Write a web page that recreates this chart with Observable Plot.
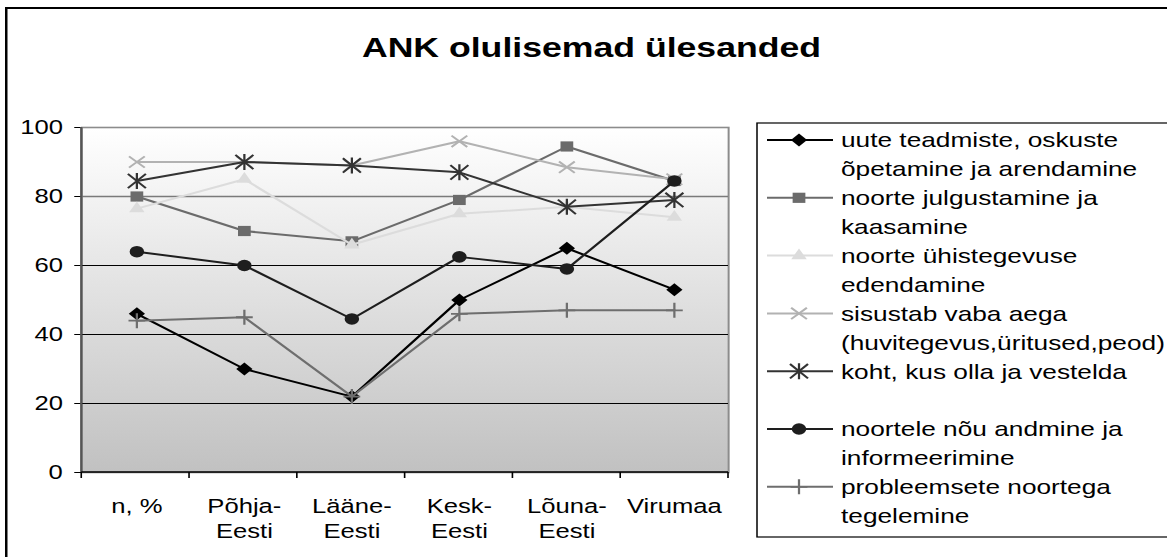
<!DOCTYPE html>
<html>
<head>
<meta charset="utf-8">
<script src="https://cdn.jsdelivr.net/npm/d3@7"></script>
<script src="https://cdn.jsdelivr.net/npm/@observablehq/plot@0.6"></script>
<style>
  html, body { margin: 0; padding: 0; background: #fff; width: 1167px; height: 557px; overflow: hidden; }
  #stage { position: absolute; left: 0; top: 0; width: 934px; height: 557px; transform: scaleX(1.25); transform-origin: 0 0; font-family: "Liberation Sans", Arial, sans-serif; }
  #border { position: absolute; left: 4px; top: 7px; width: 1000px; height: 700px; border: 2.5px solid #000; box-sizing: border-box; }
  #chart, #overlay { position: absolute; left: 0; top: 0; }
</style>
</head>
<body>
<div id="stage">
  <div id="border"></div>
  <div id="chart"></div>
  <svg id="overlay" width="934" height="557"></svg>
</div>
<script>
// ---------- data ----------
const categories = ["n, %", "Põhja-Eesti", "Lääne-Eesti", "Kesk-Eesti", "Lõuna-Eesti", "Virumaa"];
const tickLabels = ["n, %", "Põhja-\nEesti", "Lääne-\nEesti", "Kesk-\nEesti", "Lõuna-\nEesti", "Virumaa"];
const yTicks = [0, 20, 40, 60, 80, 100];
const chartTitle = "ANK olulisemad ülesanded";

const seriesLabels = [
  ["uute teadmiste, oskuste", "õpetamine ja arendamine"],
  ["noorte julgustamine ja", "kaasamine"],
  ["noorte ühistegevuse", "edendamine"],
  ["sisustab vaba aega", "(huvitegevus,üritused,peod)"],
  ["koht, kus olla ja vestelda", ""],
  ["noortele nõu andmine ja", "informeerimine"],
  ["probleemsete noortega", "tegelemine"]
];
const uuteTeadmiste   = [46, 30, 22, 50, 65, 53];
const julgustamine    = [80, 70, 67, 79, 94.5, 84.5];
const yhistegevus     = [76.5, 85, 66, 75, 77, 74];
const vabaAeg         = [90, 90, 89, 96, 88.5, 85];
const kohtVestelda    = [84.5, 90, 89, 87, 77, 79];
const nouAndmine      = [64, 60, 44.5, 62.5, 59, 84.5];
const probleemsed     = [44, 45, 22, 46, 47, 47];
const seriesValues = [uuteTeadmiste, julgustamine, yhistegevus, vabaAeg, kohtVestelda, nouAndmine, probleemsed];

// ---------- styles ----------
const sym = f => ({ draw(ctx, size) { const k = Math.sqrt(size / Math.PI); f(ctx, k); } });
const diamondSym = sym((c, k) => { c.moveTo(0, -k); c.lineTo(k, 0); c.lineTo(0, k); c.lineTo(-k, 0); c.closePath(); });
const timesSym = sym((c, k) => { c.moveTo(-k, -k * 0.9); c.lineTo(k, k * 0.9); c.moveTo(-k, k * 0.9); c.lineTo(k, -k * 0.9); });
const plusSym = sym((c, k) => { c.moveTo(-k, 0); c.lineTo(k, 0); c.moveTo(0, -k * 1.12); c.lineTo(0, k * 1.12); });
const starSym = sym((c, k) => { const a = k * 0.9; c.moveTo(-a, -a); c.lineTo(a, a); c.moveTo(-a, a); c.lineTo(a, -a); c.moveTo(0, -k); c.lineTo(0, k); });

const seriesStyles = [
  { color: "#000000", symbol: diamondSym, d3type: diamondSym, r: 6.5, filled: true },
  { color: "#6b6b6b", symbol: "square", d3type: d3.symbolSquare, r: 5.75, filled: true },
  { color: "#dcdcdc", symbol: "triangle", d3type: d3.symbolTriangle, r: 4.6, filled: true },
  { color: "#b2b2b2", symbol: timesSym, d3type: timesSym, r: 6.3, filled: false },
  { color: "#333333", symbol: starSym, d3type: starSym, r: 8, filled: false },
  { color: "#1e1e1e", symbol: "circle", d3type: d3.symbolCircle, r: 5.8, filled: true },
  { color: "#6e6e6e", symbol: plusSym, d3type: plusSym, r: 6.7, filled: false }
];

const rows = seriesValues.flatMap((vals, s) => vals.map((v, i) => ({ series: s, category: categories[i], value: v })));

const W = 934, H = 557;

function axisLines(index, scales, values, dims) {
  const { width, marginLeft, marginRight } = dims;
  const g = d3.create("svg:g");
  const y0 = scales.y(0), y1 = scales.y(100);
  const x0 = marginLeft, x1 = width - marginRight;
  const step = (x1 - x0) / categories.length;
  for (let i = 0; i <= categories.length; i++) {
    g.append("line").attr("x1", x0 + i * step).attr("x2", x0 + i * step)
      .attr("y1", y0).attr("y2", y0 + 6).attr("stroke", "#000").attr("stroke-width", 1.3);
  }
  g.append("line").attr("x1", x0).attr("x2", x0).attr("y1", y1).attr("y2", y0)
    .attr("stroke", "#555").attr("stroke-width", 1.8);
  g.append("line").attr("x1", x0).attr("x2", x1).attr("y1", y0).attr("y2", y0)
    .attr("stroke", "#000").attr("stroke-width", 1.4);
  return g.node();
}

const seriesMarks = seriesStyles.flatMap((st, s) => {
  const d = rows.filter(r => r.series === s);
  return [
    Plot.line(d, { x: "category", y: "value", stroke: st.color, strokeWidth: 2 }),
    Plot.dot(d, {
      x: "category", y: "value", symbol: st.symbol, r: st.r,
      fill: st.filled ? st.color : "none", stroke: st.filled ? "none" : st.color, strokeWidth: 1.8
    })
  ];
});

const plot = Plot.plot({
  width: W, height: H,
  marginLeft: 65, marginRight: 351.6, marginTop: 127, marginBottom: 85,
  style: { fontFamily: '"Liberation Sans", Arial, sans-serif', fontSize: "20.5px", background: "transparent", color: "#000", overflow: "visible" },
  x: { type: "point", domain: categories, padding: 0.5, axis: null },
  y: { domain: [0, 100], axis: null },
  marks: [
    Plot.frame({ fill: "url(#plotbg)", stroke: "#8c8c8c", strokeWidth: 1.6 }),
    Plot.gridY([20, 40, 60], { stroke: "#000", strokeOpacity: 1, strokeWidth: 1.2 }),
    Plot.gridY([80], { stroke: "#7a7a7a", strokeOpacity: 1, strokeWidth: 1.4 }),
    Plot.axisY({ ticks: yTicks, tickSize: 5.6, tickPadding: 9.6, fontSize: 20.5, stroke: "#000", label: null }),
    Plot.axisX({ tickSize: 0, tickPadding: 22, fontSize: 20.5, lineHeight: 1.25, label: null,
      tickFormat: d => tickLabels[categories.indexOf(d)] }),
    axisLines,
    ...seriesMarks
  ]
});

const grad = d3.select(plot).insert("defs", ":first-child")
  .append("linearGradient").attr("id", "plotbg")
  .attr("x1", 0).attr("y1", 0).attr("x2", 0).attr("y2", 1);
grad.append("stop").attr("offset", 0).attr("stop-color", "#ffffff");
grad.append("stop").attr("offset", 1).attr("stop-color", "#c1c1c1");

document.getElementById("chart").appendChild(plot);

// ---------- title & legend ----------
const ov = d3.select("#overlay").style("font-family", '"Liberation Sans", Arial, sans-serif');
ov.append("text").attr("x", 473.2).attr("y", 57).attr("text-anchor", "middle")
  .attr("font-weight", "bold").attr("font-size", 28.5).attr("fill", "#000").text(chartTitle);

const lg = ov.append("g");
lg.append("rect").attr("x", 605.6).attr("y", 123).attr("width", 500).attr("height", 414)
  .attr("fill", "#fff").attr("stroke", "#000").attr("stroke-width", 1.2);
seriesStyles.forEach((st, s) => {
  const cy = 140 + s * 57.8;
  lg.append("line").attr("x1", 613.6).attr("x2", 666.4).attr("y1", cy).attr("y2", cy)
    .attr("stroke", st.color).attr("stroke-width", 2);
  lg.append("path").attr("transform", `translate(639.2,${cy})`)
    .attr("d", d3.symbol(st.d3type, Math.PI * st.r * st.r)())
    .attr("fill", st.filled ? st.color : "none")
    .attr("stroke", st.filled ? "none" : st.color).attr("stroke-width", 1.8);
  const t = lg.append("text").attr("x", 672.8).attr("y", cy + 7.5).attr("font-size", 21).attr("fill", "#000");
  seriesLabels[s].forEach((line, j) => {
    t.append("tspan").attr("x", 672.8).attr("dy", j ? 28.9 : 0).text(line);
  });
});
</script>
</body>
</html>
